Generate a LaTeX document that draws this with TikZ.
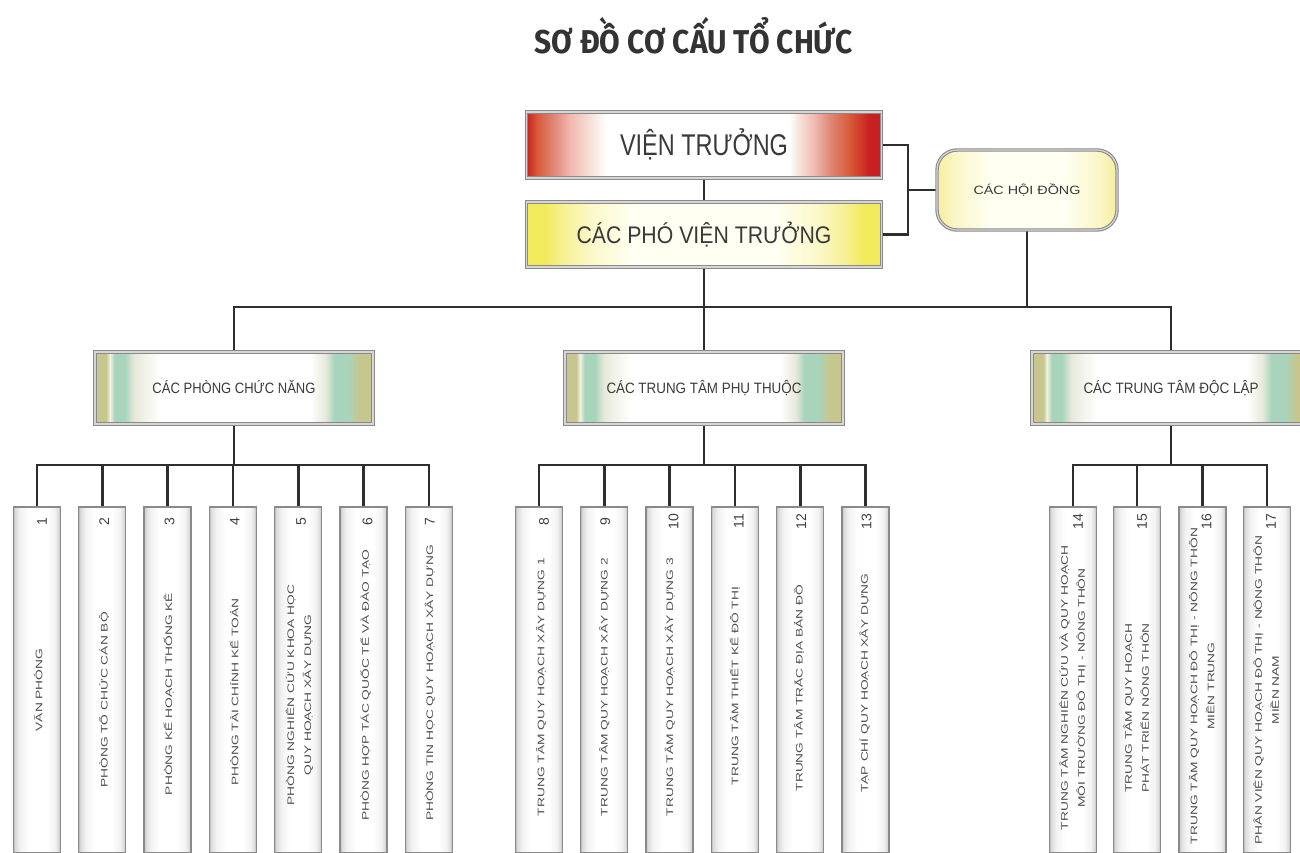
\documentclass[tikz,border=0pt]{standalone}
\usepackage{fontspec}
\setmainfont{Liberation Sans}
\newfontfamily\titlefont{Fira Sans}
\usepackage{graphicx}
\usetikzlibrary{backgrounds}
\definecolor{linec}{HTML}{2E2E2E}
\definecolor{txt}{HTML}{3A3A3A}
\definecolor{titlec}{HTML}{333333}
\definecolor{bord}{HTML}{8A8A8A}
\definecolor{bordin}{HTML}{D6D6D6}
\definecolor{labc}{HTML}{505050}
\definecolor{numc}{HTML}{404040}
% red
\definecolor{vtA}{HTML}{C82020}
\definecolor{vtB}{HTML}{D85A38}
\definecolor{vtC}{HTML}{E08878}
\definecolor{vtD}{HTML}{F0B8B0}
\definecolor{vtE}{HTML}{F6E0D6}
% yellow
\definecolor{pA}{HTML}{F2EA5A}
\definecolor{pB}{HTML}{F6F090}
\definecolor{pC}{HTML}{FBF8C8}
\definecolor{pD}{HTML}{FFFFF2}
% olive
\definecolor{mA}{HTML}{C6C68E}
\definecolor{mB}{HTML}{A8D4BC}
\definecolor{mC}{HTML}{E6E9DA}
\definecolor{mS}{HTML}{F2F2E2}
% council
\definecolor{hA}{HTML}{F6EE9C}
\definecolor{hB}{HTML}{FAF6C8}
\definecolor{hC}{HTML}{FFFFF2}
% columns
\definecolor{cA}{HTML}{B8B8B8}
\definecolor{cB}{HTML}{DADADA}
\definecolor{cC}{HTML}{F2F2F2}
\definecolor{cD}{HTML}{A8A8A8}
\pgfdeclarehorizontalshading{vtshade}{100bp}{color(0bp)=(vtA); color(25bp)=(vtA); color(26.5bp)=(vtB); color(28.9bp)=(vtC); color(31.1bp)=(vtD); color(33.9bp)=(vtE); color(36.3bp)=(white); color(62bp)=(white); color(63.5bp)=(vtE); color(65.6bp)=(vtD); color(67.7bp)=(vtC); color(70.5bp)=(vtB); color(73.3bp)=(vtA); color(75bp)=(vtA); color(100bp)=(vtA)}
\pgfdeclarehorizontalshading{pvtshade}{100bp}{color(0bp)=(pA); color(25bp)=(pA); color(27.5bp)=(pA); color(30bp)=(pB); color(34bp)=(pC); color(40bp)=(pD); color(60bp)=(pD); color(66bp)=(pC); color(70bp)=(pB); color(72.5bp)=(pA); color(75bp)=(pA); color(100bp)=(pA)}
\pgfdeclarehorizontalshading{midshade}{100bp}{color(0bp)=(mA); color(25bp)=(mA); color(27bp)=(mA); color(27.7bp)=(mS); color(28.5bp)=(mB); color(30.4bp)=(mB); color(32bp)=(mC); color(36.7bp)=(white); color(63.7bp)=(white); color(66.5bp)=(mC); color(68bp)=(mB); color(70.5bp)=(mB); color(72.5bp)=(mA); color(75bp)=(mA); color(100bp)=(mA)}
\pgfdeclarehorizontalshading{hdshade}{100bp}{color(0bp)=(hA); color(25bp)=(hA); color(30bp)=(hB); color(40bp)=(hC); color(60bp)=(hC); color(70bp)=(hB); color(75bp)=(hA); color(100bp)=(hA)}
\pgfdeclarehorizontalshading{colshade}{100bp}{color(0bp)=(cA); color(25bp)=(cA); color(26.5bp)=(cB); color(32bp)=(cC); color(42bp)=(white); color(60bp)=(white); color(69bp)=(cC); color(73bp)=(cB); color(75bp)=(cD); color(100bp)=(cD)}
\newcommand\colunit[7]{% name, x, number, xoff, ycenter, label, numxoff
  \node[colbox] (#1) at (#2,680) {};
  \node[colnum] (#1n) at ([xshift=#7pt,yshift=-15pt]#1.north) {#3};
  \node[collab] (#1t) at ([xshift=#4pt]#1.center |- 0,#5) {\scalebox{1.45}[1]{\begin{tabular}{@{}c@{}}#6\end{tabular}}};
}
\begin{document}
\begin{tikzpicture}[x=1pt,y=-1pt,
  conn/.style={draw=linec,line width=2.6},
  framed/.style={draw=bord,double=bordin,double distance=1.2,line width=1.1,inner sep=0},
  vtbox/.style={framed,shading=vtshade,minimum width=355,minimum height=66,text=txt,
     font=\fontsize{30}{30}\selectfont,text height=21.5,text depth=0},
  pvtbox/.style={framed,shading=pvtshade,minimum width=355,minimum height=65,text=txt,
     font=\fontsize{24}{24}\selectfont,text height=17.2,text depth=0},
  hdbox/.style={framed,shading=hdshade,rounded corners=20,minimum width=180,minimum height=80,text=txt,
     font=\fontsize{12}{12}\selectfont,text height=8.6,text depth=0},
  midbox/.style={framed,shading=midshade,minimum width=278,minimum height=72,text=txt,
     font=\fontsize{15}{15}\selectfont,text height=10.7,text depth=0},
  colbox/.style={draw=bord,line width=1.3,shading=colshade,minimum width=47,minimum height=346,inner sep=0},
  colnum/.style={rotate=90,inner sep=0,text=numc,font=\fontsize{14}{14}\selectfont},
  collab/.style={rotate=90,inner sep=0,text=labc,font=\fontsize{9.5}{17}\selectfont}
]
\useasboundingbox (0,0) rectangle (1300,852);
\clip (0,0) rectangle (1300,852);

\node[anchor=base,text=titlec,font=\titlefont\bfseries\fontsize{33}{33}\selectfont] (title) at (693.5,53) {\resizebox{318pt}{\height}{SƠ ĐỒ CƠ CẤU TỔ CHỨC}};

\node[vtbox] (vt) at (704,145) {\resizebox{168pt}{\height}{VIỆN TRƯỞNG}};
\node[pvtbox] (pvt) at (704,234.5) {\resizebox{255pt}{\height}{CÁC PHÓ VIỆN TRƯỞNG}};
\node[hdbox] (hd) at (1027,190) {\resizebox{107pt}{\height}{CÁC HỘI ĐỒNG}};

\node[midbox] (b1) at (234,388) {\resizebox{163pt}{\height}{CÁC PHÒNG CHỨC NĂNG}};
\node[midbox] (b2) at (704,388) {\resizebox{195pt}{\height}{CÁC TRUNG TÂM PHỤ THUỘC}};
\node[midbox] (b3) at (1171,388) {\resizebox{175pt}{\height}{CÁC TRUNG TÂM ĐỘC LẬP}};

\colunit{c1}{37}{1}{2}{690}{VĂN PHÒNG}{5}
\colunit{c2}{102.3}{2}{2}{700}{PHÒNG TỔ CHỨC CÁN BỘ}{2}
\colunit{c3}{167.6}{3}{1}{694}{PHÒNG KẾ HOẠCH THỐNG KÊ}{2}
\colunit{c4}{232.9}{4}{2}{692}{PHÒNG TÀI CHÍNH KẾ TOÁN}{2}
\colunit{c5}{298.2}{5}{1}{695}{PHÒNG NGHIÊN CỨU KHOA HỌC\\QUY HOẠCH XÂY DỰNG}{3}
\colunit{c6}{363.5}{6}{2}{685}{PHÒNG HỢP TÁC QUỐC TẾ VÀ ĐÀO TẠO}{4}
\colunit{c7}{428.8}{7}{1}{683}{PHÒNG TIN HỌC QUY HOẠCH XÂY DỰNG}{1}

\colunit{c8}{539}{8}{2}{687}{TRUNG TÂM QUY HOẠCH XÂY DỰNG 1}{5}
\colunit{c9}{604.3}{9}{0}{687}{TRUNG TÂM QUY HOẠCH XÂY DỰNG 2}{1}
\colunit{c10}{669.6}{10}{0}{687}{TRUNG TÂM QUY HOẠCH XÂY DỰNG 3}{4}
\colunit{c11}{734.9}{11}{0}{686}{TRUNG TÂM THIẾT KẾ ĐÔ THỊ}{4}
\colunit{c12}{800.2}{12}{-1}{688}{TRUNG TÂM TRẮC ĐỊA BẢN ĐỒ}{1}
\colunit{c13}{865.5}{13}{-1}{683}{TẠP CHÍ QUY HOẠCH XÂY DỰNG}{1}

\colunit{c14}{1073}{14}{0}{688}{TRUNG TÂM NGHIÊN CỨU VÀ QUY HOẠCH\\MÔI TRƯỜNG ĐÔ THỊ - NÔNG THÔN}{5}
\colunit{c15}{1137}{15}{0}{708}{TRUNG TÂM QUY HOẠCH\\PHÁT TRIỂN NÔNG THÔN}{5}
\colunit{c16}{1202.5}{16}{0}{686}{TRUNG TÂM QUY HOẠCH ĐÔ THỊ - NÔNG THÔN\\MIỀN TRUNG}{4}
\colunit{c17}{1267}{17}{0}{690}{PHÂN VIỆN QUY HOẠCH ĐÔ THỊ - NÔNG THÔN\\MIỀN NAM}{4}

\begin{pgfonlayer}{background}
\fill[white] (0,0) rectangle (1300,852);
\coordinate (br) at (908,190);
\draw[conn] (vt.east) -| (br) |- (pvt.east);
\draw[conn] (br) -- (hd.west);
\draw[conn] (vt.south) -- (pvt.north);
\coordinate (bus) at (704,307);
\draw[conn] (pvt.south) -- (b2.north);
\draw[conn] (b1.north) |- (bus) -| (b3.north);
\draw[conn] (hd.south) -- (hd.south |- bus);
\coordinate (g1) at (234,465);
\coordinate (g2) at (704,465);
\coordinate (g3) at (1171,465);
\draw[conn] (b1.south) -- (g1);
\draw[conn] (b2.south) -- (g2);
\draw[conn] (b3.south) -- (g3);
\draw[conn] (c1.north) |- (g1) -| (c7.north);
\draw[conn] (c8.north) |- (g2) -| (c13.north);
\draw[conn] (c14.north) |- (g3) -| (c17.north);
\foreach \c in {c2,c3,c4,c5,c6,c9,c10,c11,c12,c15,c16}
  \draw[conn] (\c.north) -- (\c.north |- g1);
\end{pgfonlayer}
\end{tikzpicture}
\end{document}
